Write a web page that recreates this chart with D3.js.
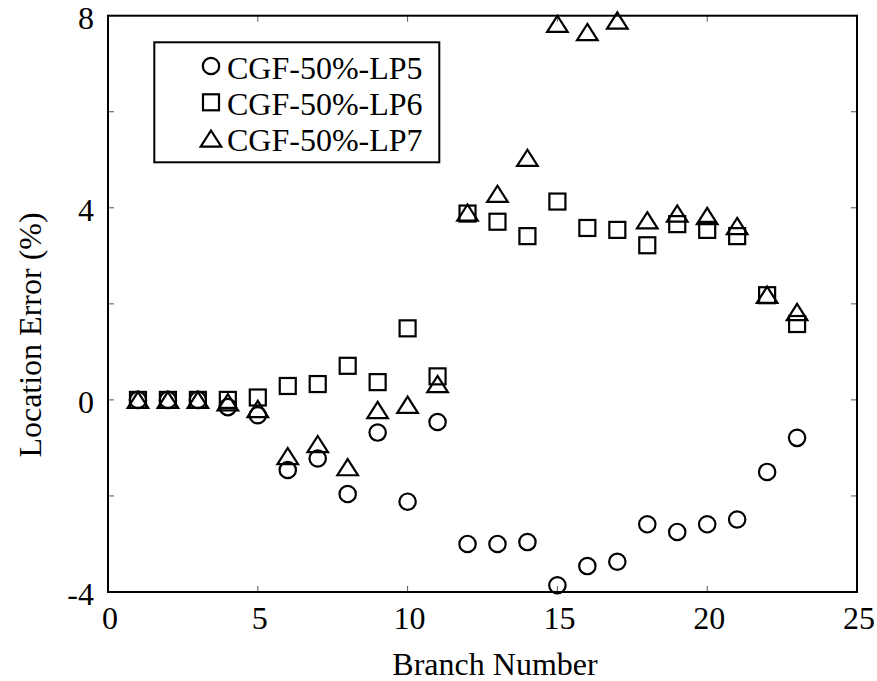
<!DOCTYPE html>
<html>
<head>
<meta charset="utf-8">
<script src="https://cdn.jsdelivr.net/npm/d3@7"></script>
<style>
  body { margin: 0; background: white; }
  text { font-family: "Liberation Serif", "Times New Roman", serif; fill: black; }
</style>
</head>
<body>
<svg id="chart" width="877" height="681"></svg>
<script>
// branch numbers 1..23
const branches = [1, 2, 3, 4, 5, 6, 7, 8, 9, 10, 11, 12, 13, 14, 15, 16, 17, 18, 19, 20, 21, 22, 23];
const lp5 = [0, 0, 0, -0.15, -0.32, -1.46, -1.22, -1.96, -0.68, -2.12, -0.46, -3.0, -3.0, -2.96, -3.86, -3.46, -3.37, -2.59, -2.75, -2.59, -2.49, -1.5, -0.79];
const lp6 = [0, 0, 0, 0, 0.05, 0.29, 0.33, 0.71, 0.37, 1.49, 0.49, 3.88, 3.71, 3.41, 4.13, 3.58, 3.54, 3.22, 3.66, 3.54, 3.41, 2.18, 1.58];
const lp7 = [0, 0, 0, -0.05, -0.19, -1.17, -0.92, -1.4, -0.21, -0.1, 0.33, 3.9, 4.29, 5.04, 7.83, 7.66, 7.9, 3.74, 3.88, 3.83, 3.62, 2.19, 1.83];

const seriesNames = ["CGF-50%-LP5", "CGF-50%-LP6", "CGF-50%-LP7"];
const seriesShapes = ["circle", "square", "triangle"];
const xTicks = [0, 5, 10, 15, 20, 25];
const yTicks = [-4, -2, 0, 2, 4, 6, 8];
const yTickLabels = [-4, 0, 4, 8];

const plot = { left: 108, right: 857, top: 15.7, bottom: 592 };
const x = d3.scaleLinear().domain([0, 25]).range([plot.left, plot.right]);
const y = d3.scaleLinear().domain([-4, 8]).range([plot.bottom, plot.top]);

const svg = d3.select("#chart");
const fontSize = 32;

// marker drawing
function drawMarker(g, shape, cx, cy) {
  if (shape === "circle") {
    g.append("circle").attr("cx", cx).attr("cy", cy).attr("r", 8.2);
  } else if (shape === "square") {
    g.append("rect").attr("x", cx - 8).attr("y", cy - 8).attr("width", 16).attr("height", 16);
  } else {
    const w = 10.3, h = 8.1;
    g.append("path").attr("d", `M${cx},${cy - h}L${cx + w},${cy + h}L${cx - w},${cy + h}Z`);
  }
}

// ticks (inward on all four sides)
const ticks = svg.append("g").attr("stroke", "#555").attr("stroke-width", 1);
xTicks.forEach((t) => {
  ticks.append("line").attr("x1", x(t)).attr("x2", x(t)).attr("y1", plot.bottom).attr("y2", plot.bottom - 6);
  ticks.append("line").attr("x1", x(t)).attr("x2", x(t)).attr("y1", plot.top).attr("y2", plot.top + 6);
});
yTicks.forEach((t) => {
  ticks.append("line").attr("x1", plot.left).attr("x2", plot.left + 6).attr("y1", y(t)).attr("y2", y(t));
  ticks.append("line").attr("x1", plot.right).attr("x2", plot.right - 6).attr("y1", y(t)).attr("y2", y(t));
});

// tick labels
svg.append("g")
  .selectAll("text")
  .data(xTicks)
  .enter()
  .append("text")
  .attr("x", (d) => x(d) + 2)
  .attr("y", 629)
  .attr("text-anchor", "middle")
  .attr("font-size", fontSize)
  .text((d) => d);

svg.append("g")
  .selectAll("text")
  .data(yTickLabels)
  .enter()
  .append("text")
  .attr("x", 94)
  .attr("y", (d) => y(d) + 13)
  .attr("text-anchor", "end")
  .attr("font-size", fontSize)
  .text((d) => d);

// axis titles
svg.append("text")
  .attr("x", 495)
  .attr("y", 675)
  .attr("text-anchor", "middle")
  .attr("font-size", fontSize)
  .text("Branch Number");

svg.append("text")
  .attr("transform", "translate(41, 335) rotate(-90)")
  .attr("text-anchor", "middle")
  .attr("font-size", fontSize)
  .text("Location Error (%)");

// data markers
const allSeries = [lp5, lp6, lp7];
const markers = svg.append("g")
  .attr("fill", "none")
  .attr("stroke", "black")
  .attr("stroke-width", 2.2);
allSeries.forEach((vals, si) => {
  vals.forEach((v, i) => drawMarker(markers, seriesShapes[si], x(branches[i]), y(v)));
});

// frame
svg.append("rect")
  .attr("x", plot.left)
  .attr("y", plot.top)
  .attr("width", plot.right - plot.left)
  .attr("height", plot.bottom - plot.top)
  .attr("fill", "none")
  .attr("stroke", "black")
  .attr("stroke-width", 2);

// legend
const legend = svg.append("g");
legend.append("rect")
  .attr("x", 154.3)
  .attr("y", 42.3)
  .attr("width", 285)
  .attr("height", 120)
  .attr("fill", "white")
  .attr("stroke", "black")
  .attr("stroke-width", 2);
const legMarkers = legend.append("g").attr("fill", "none").attr("stroke", "black").attr("stroke-width", 2.2);
seriesNames.forEach((name, i) => {
  const rowY = 66 + i * 36.3;
  drawMarker(legMarkers, seriesShapes[i], 211, rowY);
  legend.append("text")
    .attr("x", 227)
    .attr("y", rowY + 12.5)
    .attr("font-size", fontSize)
    .text(name);
});
</script>
</body>
</html>
